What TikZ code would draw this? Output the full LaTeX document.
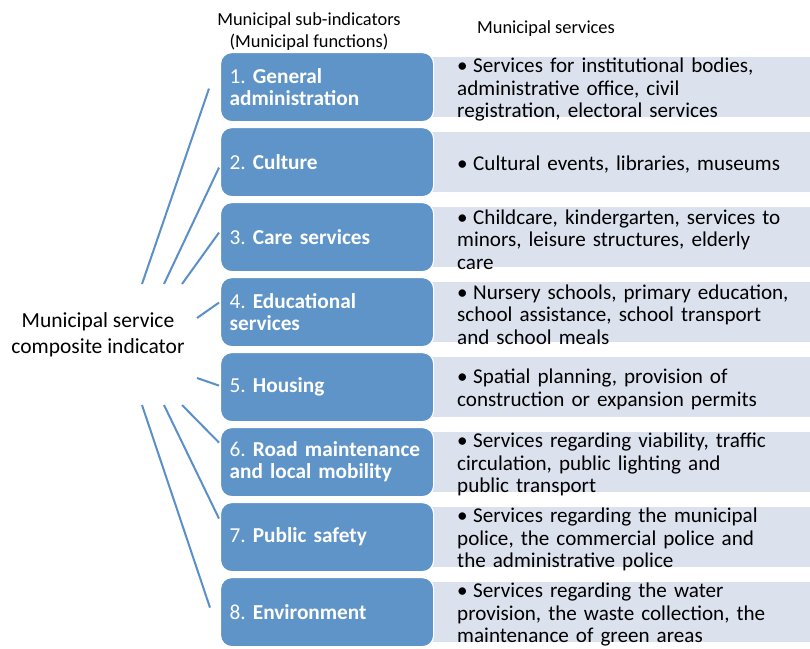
\documentclass[tikz,border=0pt]{standalone}
\usepackage{fontspec}
\setmainfont{Carlito}
\usetikzlibrary{calc}
\definecolor{boxblue}{RGB}{95,148,201}
\definecolor{svcgrey}{RGB}{220,225,238}
\definecolor{linkblue}{RGB}{91,143,199}
\frenchspacing
% no hyphenation inside the boxes
\newcommand{\nohyph}{\hyphenpenalty=10000\relax}
% bullet with hanging indent for the service lists
\newcommand{\svcitem}[1]{\hangindent=16pt\hangafter=1\noindent\makebox[16pt][l]{\textbullet}#1}

\begin{document}
\begin{tikzpicture}[x=1pt,y=-1pt,
  fnbox/.style={draw=white,line width=1.2pt,fill=boxblue,rounded corners=11pt,
    minimum width=213pt,minimum height=69pt,anchor=north west,text=white,
    align=left,text width=195pt,inner xsep=9pt,inner ysep=0pt,
    font=\fontsize{21.3}{22}\selectfont\frenchspacing\nohyph},
  svcband/.style={fill=svcgrey,minimum width=380pt,minimum height=60pt,
    anchor=north west,inner sep=0pt},
  svctext/.style={anchor=west,align=left,text width=345pt,inner sep=0pt,
    font=\fontsize{21.1}{22.5}\selectfont\frenchspacing\nohyph},
  link/.style={draw=linkblue,line width=2pt},
  header/.style={align=center,inner sep=0pt,font=\fontsize{18.4}{22}\selectfont}]

\useasboundingbox (0,0) rectangle (810,648);

% column headers
\node[header] (hfun) at (309,32) {Municipal sub-indicators\\(Municipal functions)};
\node[header,anchor=base] (hsvc) at (546,33) {Municipal services};

% composite indicator label
\node[align=center,inner sep=0pt,font=\fontsize{21.5}{26}\selectfont] (lab) at (98,335)
  {Municipal service\\composite indicator};

% service bands
\node[svcband] (g1) at (430,57) {};
\node[svcband] (g2) at (430,132) {};
\node[svcband] (g3) at (430,207) {};
\node[svcband] (g4) at (430,282) {};
\node[svcband] (g5) at (430,357) {};
\node[svcband] (g6) at (430,432) {};
\node[svcband] (g7) at (430,507) {};
\node[svcband] (g8) at (430,582) {};

% municipal functions
\node[fnbox] (b1) at (220,52)  {1. \textbf{General}\\\textbf{administration}};
\node[fnbox] (b2) at (220,127) {2. \textbf{Culture}};
\node[fnbox] (b3) at (220,202) {3. \textbf{Care services}};
\node[fnbox] (b4) at (220,277) {4. \textbf{Educational}\\\textbf{services}};
\node[fnbox] (b5) at (220,352) {5. \textbf{Housing}};
\node[fnbox] (b6) at (220,427) {6. \textbf{Road maintenance}\\\textbf{and local mobility}};
\node[fnbox] (b7) at (220,502) {7. \textbf{Public safety}};
\node[fnbox] (b8) at (220,577) {8. \textbf{Environment}};

% service texts
\node[svctext] (s1) at ($(g1.west)+(27,2.5)$) {\svcitem{Services for institutional bodies,\\administrative office, civil\\registration, electoral services}};
\node[svctext] (s2) at ($(g2.west)+(27,2)$) {\svcitem{Cultural events, libraries, museums}};
\node[svctext] (s3) at ($(g3.west)+(27,2.5)$) {\svcitem{Childcare, kindergarten, services to\\minors, leisure structures, elderly\\care}};
\node[svctext] (s4) at ($(g4.west)+(27,2.5)$) {\svcitem{Nursery schools, primary education,\\school assistance, school transport\\and school meals}};
\node[svctext] (s5) at ($(g5.west)+(27,2)$) {\svcitem{Spatial planning, provision of\\construction or expansion permits}};
\node[svctext] (s6) at ($(g6.west)+(27,2.5)$) {\svcitem{Services regarding viability, traffic\\circulation, public lighting and\\public transport}};
\node[svctext] (s7) at ($(g7.west)+(27,2.5)$) {\svcitem{Services regarding the municipal\\police, the commercial police and\\the administrative police}};
\node[svctext] (s8) at ($(g8.west)+(27,2.5)$) {\svcitem{Services regarding the water\\provision, the waste collection, the\\maintenance of green areas}};

% fan of connectors from the composite indicator
\coordinate (f1) at (142,284);
\coordinate (f2) at (164,284);
\coordinate (f3) at (182,284);
\coordinate (f4) at (197,318);
\coordinate (f5) at (197,378);
\coordinate (f6) at (182,405);
\coordinate (f7) at (164,405);
\coordinate (f8) at (142,405);

\draw[link] (f1) -- ($(b1.west)+(-11,1.5)$);
\draw[link] (f2) -- ($(b2.west)+(-1,5.5)$);
\draw[link] (f3) -- ($(b3.west)+(-1,-4.5)$);
\draw[link] (f4) -- ($(b4.west)+(-1,-9.5)$);
\draw[link] (f5) -- ($(b5.west)+(-1,-1.5)$);
\draw[link] (f6) -- ($(b6.west)+(-1,-19.5)$);
\draw[link] (f7) -- ($(b7.west)+(-1,-18.5)$);
\draw[link] (f8) -- ($(b8.west)+(-10,-4.5)$);
\end{tikzpicture}
\end{document}
